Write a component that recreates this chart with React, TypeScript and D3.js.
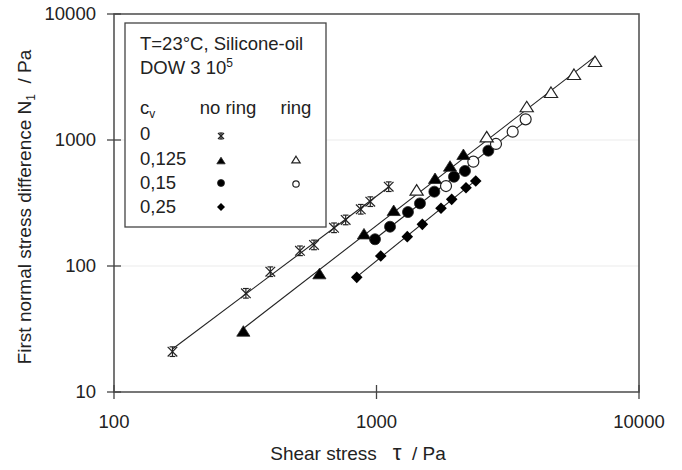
import React from 'react';
import * as d3 from 'd3';

// cv = 0 (no ring)
const starTau = [167, 318, 394, 511, 578, 689, 763, 871, 947, 1113];
const starN = [20.9, 60.7, 90.1, 132, 147, 201, 232, 282, 324, 426];

// cv = 0,125
const triTau = [311, 606, 896, 1163, 1671, 1906, 2143];
const triN = [30.1, 85.9, 178, 273, 490, 614, 760];
const triOpenTau = [1422, 2629, 3735, 4621, 5653, 6798];
const triOpenN = [396, 1050, 1819, 2361, 3280, 4159];

// cv = 0,15
const circTau = [987, 1126, 1318, 1464, 1661, 1973, 2173, 2667];
const circN = [163, 205, 268, 314, 389, 511, 568, 823];
const circOpenTau = [1840, 2338, 2852, 3302, 3700];
const circOpenN = [431, 673, 930, 1164, 1459];

// cv = 0,25
const diaTau = [841, 1038, 1310, 1495, 1761, 1934, 2193, 2388];
const diaN = [81.3, 120, 171, 214, 287, 338, 418, 473];

const xTicks = [100, 1000, 10000];
const yTicks = [10, 100, 1000, 10000];
const legendRows = ['0', '0,125', '0,15', '0,25'];

const W = 682;
const H = 470;
const FONT = 'Liberation Sans, Arial, sans-serif';
const INK = '#222';

const x = d3.scaleLog().domain([100, 10000]).range([114, 639]);
const y = d3.scaleLog().domain([10, 10000]).range([392, 14]);

const zip = (a: number[], b: number[]) => a.map((v, i) => [v, b[i]] as [number, number]);

// least squares power-law line through a group, drawn over its x range
function fitLine(pts: [number, number][]) {
  const lx = pts.map(p => Math.log10(p[0]));
  const ly = pts.map(p => Math.log10(p[1]));
  const mx = d3.mean(lx)!;
  const my = d3.mean(ly)!;
  let num = 0, den = 0;
  lx.forEach((v, i) => { num += (v - mx) * (ly[i] - my); den += (v - mx) * (v - mx); });
  const b = num / den;
  const a = my - b * mx;
  const [x0, x1] = d3.extent(lx) as [number, number];
  return [x0, x1].map(v => [Math.pow(10, v), Math.pow(10, a + b * v)] as [number, number]);
}

const line = d3.line<[number, number]>().x(d => x(d[0])).y(d => y(d[1]));

const Star = ({ cx, cy, r }: { cx: number; cy: number; r: number }) => (
  <g stroke={INK} strokeWidth={1.2}>
    <line x1={cx - r} y1={cy - r} x2={cx + r} y2={cy + r} />
    <line x1={cx - r} y1={cy + r} x2={cx + r} y2={cy - r} />
    <line x1={cx} y1={cy - r} x2={cx} y2={cy + r} />
    <line x1={cx - r * 0.6} y1={cy - r} x2={cx + r * 0.6} y2={cy - r} />
    <line x1={cx - r * 0.6} y1={cy + r} x2={cx + r * 0.6} y2={cy + r} />
  </g>
);

const Tri = ({ cx, cy, r, open }: { cx: number; cy: number; r: number; open?: boolean }) => (
  <path
    d={`M${cx},${cy - r}L${cx + r * 1.1},${cy + r * 0.75}L${cx - r * 1.1},${cy + r * 0.75}Z`}
    fill={open ? '#fff' : '#000'}
    stroke={INK}
    strokeWidth={open ? 1.2 : 0.8}
  />
);

const Circ = ({ cx, cy, r, open }: { cx: number; cy: number; r: number; open?: boolean }) => (
  <circle cx={cx} cy={cy} r={r} fill={open ? '#fff' : '#000'} stroke={INK} strokeWidth={open ? 1.2 : 0.8} />
);

const Dia = ({ cx, cy, r }: { cx: number; cy: number; r: number }) => (
  <path d={`M${cx},${cy - r}L${cx + r},${cy}L${cx},${cy + r}L${cx - r},${cy}Z`} fill="#000" />
);

export default function App() {
  const stars = zip(starTau, starN);
  const tris = zip(triTau, triN);
  const trisOpen = zip(triOpenTau, triOpenN);
  const circs = zip(circTau, circN);
  const circsOpen = zip(circOpenTau, circOpenN);
  const dias = zip(diaTau, diaN);

  const fits = [
    fitLine(stars),
    fitLine([...tris, ...trisOpen]),
    fitLine([...circs, ...circsOpen]),
    fitLine(dias),
  ];

  const [xl, xr] = x.range();
  const [yb, yt] = y.range();

  const lgX = 140;
  const noRingX = 221;
  const ringX = 296;
  const rowY = [140, 165, 189, 213];

  return (
    <svg width={W} height={H} style={{ position: 'absolute', left: 0, top: 0, background: '#fff' }} fontFamily={FONT}>
      <rect width={W} height={H} fill="#fff" />

      {/* faint grid */}
      {yTicks.slice(1, -1).map(t => (
        <line key={t} x1={xl} x2={xr} y1={y(t)} y2={y(t)} stroke="#ececec" strokeWidth={1.2} />
      ))}

      {/* frame */}
      <rect x={xl} y={yt} width={xr - xl} height={yb - yt} fill="none" stroke="#555" strokeWidth={1.6} />

      {/* x ticks */}
      {xTicks.map(t => (
        <g key={t}>
          <line x1={x(t)} x2={x(t)} y1={yb - 7} y2={yb + 7} stroke="#444" strokeWidth={1.3} />
          <text x={x(t)} y={428} fontSize={18.5} textAnchor="middle" fill={INK}>{t}</text>
        </g>
      ))}

      {/* y ticks */}
      {yTicks.map(t => (
        <g key={t}>
          <line x1={xl - 7} x2={xl + 7} y1={y(t)} y2={y(t)} stroke="#444" strokeWidth={1.3} />
          <text x={96} y={y(t)} dy="0.35em" fontSize={18.5} textAnchor="end" fill={INK}>{t}</text>
        </g>
      ))}

      {/* axis titles */}
      <text x={358} y={460} fontSize={19} textAnchor="middle" fill={INK} xmlSpace="preserve">
        Shear stress   <tspan fontSize={22}>τ</tspan>  / Pa
      </text>
      <text transform="translate(31,207) rotate(-90)" fontSize={19} textAnchor="middle" fill={INK} xmlSpace="preserve">
        First normal stress difference N<tspan fontSize={12} dy={4}>1</tspan><tspan dy={-4}>  / Pa</tspan>
      </text>

      {/* fit lines */}
      {fits.map((f, i) => (
        <path key={i} d={line(f) || ''} fill="none" stroke={INK} strokeWidth={1.1} />
      ))}

      {/* data */}
      {stars.map((d, i) => <Star key={'s' + i} cx={x(d[0])} cy={y(d[1])} r={4.8} />)}
      {dias.map((d, i) => <Dia key={'d' + i} cx={x(d[0])} cy={y(d[1])} r={5.8} />)}
      {circs.map((d, i) => <Circ key={'c' + i} cx={x(d[0])} cy={y(d[1])} r={5.5} />)}
      {circsOpen.map((d, i) => <Circ key={'co' + i} cx={x(d[0])} cy={y(d[1])} r={5.5} open />)}
      {tris.map((d, i) => <Tri key={'t' + i} cx={x(d[0])} cy={y(d[1])} r={6} />)}
      {trisOpen.map((d, i) => <Tri key={'to' + i} cx={x(d[0])} cy={y(d[1])} r={6} open />)}

      {/* legend */}
      <rect x={125} y={23} width={201} height={204} fill="#fff" stroke="#444" strokeWidth={1.3} />
      <g fontSize={18.5} fill={INK}>
        <text x={lgX} y={50}>T=23°C, Silicone-oil</text>
        <text x={lgX} y={74}>DOW 3 10<tspan fontSize={12} dy={-7}>5</tspan></text>
        <text x={lgX} y={114}>c<tspan fontSize={12} dy={4}>v</tspan></text>
        <text x={noRingX + 7} y={114} textAnchor="middle">no ring</text>
        <text x={ringX} y={114} textAnchor="middle">ring</text>
        {legendRows.map((r, i) => (
          <text key={r} x={lgX} y={rowY[i]}>{r}</text>
        ))}
      </g>
      <Star cx={noRingX} cy={rowY[0] - 4} r={3} />
      <Tri cx={noRingX} cy={rowY[1] - 4} r={3.8} />
      <Tri cx={ringX} cy={rowY[1] - 5} r={3.8} open />
      <Circ cx={noRingX} cy={rowY[2] - 6} r={3.5} />
      <Circ cx={ringX} cy={rowY[2] - 5} r={3.2} open />
      <Dia cx={noRingX} cy={rowY[3] - 6} r={4} />
    </svg>
  );
}
